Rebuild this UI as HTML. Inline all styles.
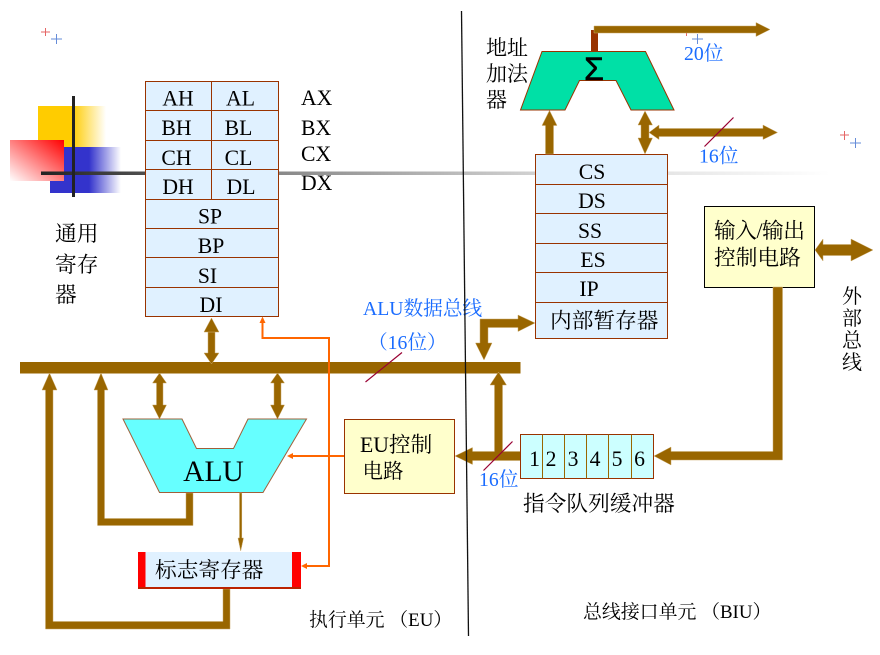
<!DOCTYPE html>
<html><head><meta charset="utf-8"><style>
html,body{margin:0;padding:0;background:#fff}
svg{display:block}
text{font-family:"Liberation Serif","Noto Serif CJK SC",serif;font-size:21.700px;fill:#000}
.b{fill:#1a6cff;font-size:19.700px}
.a{fill:#996600;stroke:#c9a868;stroke-width:.5}
</style></head><body>
<svg width="880" height="655" viewBox="0 0 880 655" xmlns="http://www.w3.org/2000/svg">
<defs>
<linearGradient id="gy" x1="0" x2="1" y1="0" y2="0"><stop offset=".5" stop-color="#ffcc00"/><stop offset="1" stop-color="#fff"/></linearGradient>
<linearGradient id="gb" x1="0" x2="1" y1="0" y2="0"><stop offset=".55" stop-color="#3333cc"/><stop offset="1" stop-color="#fff"/></linearGradient>
<linearGradient id="gr" x1="1" x2="0" y1="0" y2="1"><stop offset="0" stop-color="#ff0000"/><stop offset="1" stop-color="#fff"/></linearGradient>
<linearGradient id="gl" gradientUnits="userSpaceOnUse" x1="41" x2="830" y1="0" y2="0"><stop offset="0" stop-color="#222"/><stop offset=".3" stop-color="#888"/><stop offset=".62" stop-color="#d0d0d0"/><stop offset="1" stop-color="#fff"/></linearGradient>
</defs>

<!-- logo -->
<rect x="38" y="106" width="68" height="41" fill="url(#gy)"/>
<rect x="50" y="147" width="71" height="46" fill="url(#gb)"/>
<rect x="10" y="140" width="54" height="41" fill="url(#gr)"/>
<rect x="41" y="171.500" width="790" height="3.500" fill="url(#gl)"/>
<rect x="72" y="96" width="3" height="101" fill="#222"/>

<!-- sparkles -->
<g stroke-width="1" opacity=".75">
<path d="M41 32H50M45.500 28V36" stroke="#d33" fill="none"/><path d="M51 39H62M56.500 34V44" stroke="#36c" fill="none"/>
<path d="M840 135H849M844.500 131V140" stroke="#d33" fill="none"/><path d="M850 143H861M855.500 138V148" stroke="#36c" fill="none"/>
<path d="M692 39H703M697.500 34V44" stroke="#36c" fill="none"/><path d="M686.500 33V36" stroke="#d33" fill="none"/>
</g>

<!-- register file -->
<rect x="145.500" y="81.500" width="133" height="235" fill="#e0f1ff" stroke="#993300"/>
<path d="M145.500 110.500H278.500M145.500 140.500H278.500M145.500 169.500H278.500M145.500 199.500H278.500M145.500 228.500H278.500M145.500 257.500H278.500M145.500 287.500H278.500M211.500 81.500V199.500" stroke="#993300" fill="none"/>
<text x="178" y="105.500" text-anchor="middle">AH</text><text x="240.500" y="105.500" text-anchor="middle">AL</text>
<text x="176.500" y="135" text-anchor="middle">BH</text><text x="238.500" y="135" text-anchor="middle">BL</text>
<text x="176.500" y="165" text-anchor="middle">CH</text><text x="238.500" y="165" text-anchor="middle">CL</text>
<text x="178" y="194" text-anchor="middle">DH</text><text x="241" y="194" text-anchor="middle">DL</text>
<text x="210" y="223.500" text-anchor="middle">SP</text>
<text x="211" y="253" text-anchor="middle">BP</text>
<text x="207.500" y="283" text-anchor="middle">SI</text>
<text x="211" y="312" text-anchor="middle">DI</text>
<text x="301" y="105">AX</text><text x="301" y="135">BX</text><text x="301" y="161">CX</text><text x="301" y="190">DX</text>
<text x="55" y="241">通用</text><text x="55" y="272">寄存</text><text x="55" y="302">器</text>

<!-- segment registers -->
<rect x="535.500" y="154.500" width="132" height="184" fill="#e0f1ff" stroke="#993300"/>
<path d="M535.500 184.500H667.500M535.500 213.500H667.500M535.500 243.500H667.500M535.500 272.500H667.500M535.500 302.500H667.500" stroke="#993300" fill="none"/>
<text x="592" y="179" text-anchor="middle">CS</text>
<text x="592" y="208" text-anchor="middle">DS</text>
<text x="590" y="238" text-anchor="middle">SS</text>
<text x="593" y="267" text-anchor="middle">ES</text>
<text x="589" y="296" text-anchor="middle">IP</text>
<text x="550" y="328">内部暂存器</text>

<!-- adder -->
<rect x="591" y="30" width="7" height="22" fill="#993300"/>
<polygon points="542,51.500 645.500,51.500 674,110 631,110 616,80.500 579.500,80.500 565,110 520.500,110" fill="#00e0a6" stroke="#993300"/>
<text x="594" y="80" text-anchor="middle" style="font-family:'Liberation Sans',sans-serif;font-size:32px;stroke:#000;stroke-width:.6">Σ</text>
<text x="486" y="55" style="font-size:21px">地址</text><text x="486" y="81" style="font-size:21px">加法</text><text x="486" y="107" style="font-size:21px">器</text>
<polygon class="a" points="594,26 756,26 756,22.500 770,29.500 756,36.500 756,33 594,33"/>
<polygon class="a" points="549.500,110.500 557,125.500 553.500,125.500 553.500,154 545.500,154 545.500,125.500 542,125.500"/>
<polygon class="a" points="645,111 652.500,125 649,125 649,138 652.500,138 645,154 638,138 641,138 641,125 638,125"/>
<polygon class="a" points="649,132.500 659,125 659,128.500 763,128.500 763,125 777.500,132.500 763,139.500 763,136.500 659,136.500 659,139.500"/>
<path d="M733.500 117.500L704.500 146.500" stroke="#990033" stroke-width="1.200"/>
<text class="b" x="684" y="60">20位</text>
<text class="b" x="699" y="162.500">16位</text>

<!-- I/O control -->
<rect x="704.500" y="206.500" width="110" height="81" fill="#ffffcc" stroke="#000"/>
<text x="714" y="238" textLength="91" lengthAdjust="spacing">输入/输出</text><text x="714" y="265">控制电路</text>
<polygon class="a" points="815,250 823,239 823,244.500 851,244.500 851,239 873,250 851,261 851,255.500 823,255.500 823,261"/>
<text x="842" y="303" style="font-size:20px">外</text><text x="842" y="325" style="font-size:20px">部</text><text x="842" y="347" style="font-size:20px">总</text><text x="842" y="369" style="font-size:20px">线</text>
<polygon class="a" points="773,287 782.500,287 782.500,460 671,460 671,465 654,456 671,447 671,451.500 773,451.500"/>

<!-- bus -->
<rect x="20" y="362" width="500.500" height="11.500" fill="#996600"/>
<polygon class="a" points="208,332 215,332 215,353 219,353 211.500,364 204,353 208,353"/>
<polygon class="a" points="211.500,318 219,332 204,332"/>
<polygon class="a" points="49.500,373 57,390 53,390 53,621.500 223,621.500 223,589 230,589 230,629 45.500,629 45.500,390 42,390"/>
<polygon class="a" points="101,373 108,390 104.500,390 104.500,518.500 186,518.500 186,493 193,493 193,525.500 97.500,525.500 97.500,390 94,390"/>
<polygon class="a" points="159.500,373 166.500,383 163,383 163,405 166.500,405 159.500,419 152.500,405 156.500,405 156.500,383 152.500,383"/>
<polygon class="a" points="277.500,373 284.500,383 281,383 281,405 284.500,405 277.500,419 270.500,405 274,405 274,383 270.500,383"/>

<!-- ALU -->
<polygon points="123,419 182,419 196.500,448.500 233.500,448.500 248,419 306.500,419 263,492.500 159.500,492.500" fill="#66ffff" stroke="#a0603a"/>
<text x="213.500" y="481" text-anchor="middle" style="font-size:29.500px">ALU</text>
<polygon class="a" points="239.500,493 241.800,493 241.800,538 243.500,538 240.700,551 238,538 239.500,538"/>

<!-- flags -->
<rect x="138" y="552" width="163" height="37" fill="#e0f1ff"/>
<rect x="138" y="552" width="7.500" height="37" fill="#ff0000"/>
<rect x="292" y="552" width="9" height="37" fill="#ff0000"/>
<rect x="138" y="587" width="163" height="2" fill="#bb2200"/>
<text x="155" y="577.500">标志寄存器</text>

<!-- orange -->
<path d="M262.500 322V338H329V566H306" stroke="#ff6600" stroke-width="2" fill="none"/>
<polygon points="262.500,316.500 265.500,323 259.500,323" fill="#ff6600"/>
<polygon points="301,566 307,563 307,569" fill="#ff6600"/>
<path d="M292 456H345" stroke="#ff6600" stroke-width="2" fill="none"/>
<polygon points="287,456 293,453 293,459" fill="#ff6600"/>

<!-- EU control -->
<rect x="344.500" y="419.500" width="110" height="74" fill="#ffffcc" stroke="#993300"/>
<text x="360" y="452">EU控制</text><text x="362.500" y="478" style="font-size:20.500px">电路</text>

<!-- internal reg arrow -->
<polygon class="a" points="535,323 518,331.500 518,327.500 488,327.500 488,343 492,343 484,360 475.500,343 480,343 480,319 518,319 518,315"/>
<!-- queue arrows -->
<polygon class="a" points="498.500,372 506.500,385 502.500,385 502.500,451.500 520.500,451.500 520.500,460.500 472.500,460.500 472.500,464.500 455,456 472.500,447.500 472.500,451.500 494.500,451.500 494.500,385 490,385"/>

<!-- queue -->
<rect x="520.500" y="434.500" width="133" height="44" fill="#ccffff"/>
<path d="M520.500 434.500H653.500V478.500H520.500Z" fill="none" stroke="#993300"/>
<path d="M542.500 434.500V478.500M564.500 434.500V478.500M586.500 434.500V478.500M608.500 434.500V478.500M631.500 434.500V478.500" stroke="#996600" fill="none"/>
<text x="534.500" y="466" text-anchor="middle">1</text><text x="551" y="466" text-anchor="middle">2</text><text x="573" y="466" text-anchor="middle">3</text><text x="595" y="466" text-anchor="middle">4</text><text x="617" y="466" text-anchor="middle">5</text><text x="639.500" y="466" text-anchor="middle">6</text>
<text x="523" y="511">指令队列缓冲器</text>

<!-- labels -->
<text class="b" x="363" y="315">ALU数据总线</text>
<text class="b" x="368" y="349">（16位）</text>
<text class="b" x="479" y="486">16位</text>
<path d="M402 352.500L365.500 382" stroke="#990033" stroke-width="1.200"/>
<path d="M512.500 441.500L483.500 470.500" stroke="#990033" stroke-width="1.200"/>
<text x="309" y="626" style="font-size:18.900px">执行单元 （EU）</text>
<text x="583" y="618" style="font-size:18.900px">总线接口单元 （BIU）</text>

<!-- divider -->
<path d="M461.500 11L468.500 636" stroke="#111" stroke-width="1.300" fill="none"/>
</svg>
</body></html>
